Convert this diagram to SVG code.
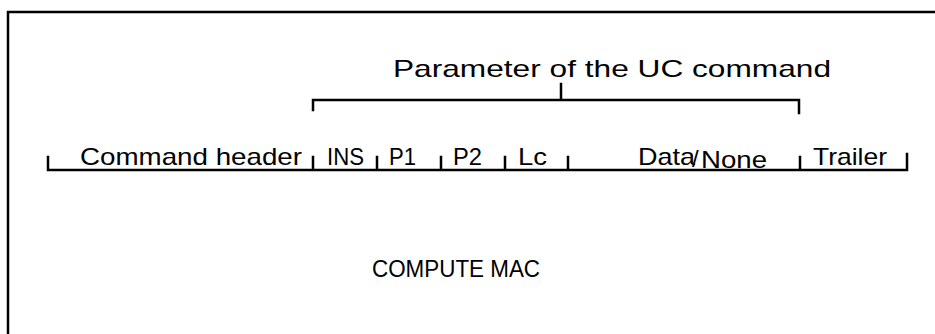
<svg xmlns="http://www.w3.org/2000/svg" width="935" height="334" viewBox="0 0 935 334">
<style>
.ln{fill:none;stroke:#000;stroke-width:2.5;stroke-linecap:square}
.t{font-family:"Liberation Sans",Arial,sans-serif;font-size:24px;fill:#000}
</style>
<rect width="935" height="334" fill="#fff"/>
<g id="frame"><rect x="8" y="12" width="940" height="340" fill="none" stroke="#000" stroke-width="2.5"/></g>
<g id="connectors">
<path class="ln" d="M313 110V100H799V113M561 100V84"/>
<path class="ln" d="M48 157V170H907V154M313 157V170M377 157V170M441 157V170M505 157V170M568 157V170M800 157V170"/>
</g>
<g id="param"><text class="t" x="393" y="77" textLength="438" lengthAdjust="spacingAndGlyphs">Parameter of the UC command</text></g>
<g id="header"><text class="t" x="80" y="165" textLength="222" lengthAdjust="spacingAndGlyphs">Command header</text></g>
<g id="ins"><text class="t" x="327" y="165" textLength="37" lengthAdjust="spacingAndGlyphs">INS</text></g>
<g id="p1"><text class="t" x="389" y="165" textLength="27" lengthAdjust="spacingAndGlyphs">P1</text></g>
<g id="p2"><text class="t" x="453" y="165" textLength="29" lengthAdjust="spacingAndGlyphs">P2</text></g>
<g id="lc"><text class="t" x="518" y="165" textLength="29" lengthAdjust="spacingAndGlyphs">Lc</text></g>
<g id="data"><text class="t" x="638" y="165" textLength="57" lengthAdjust="spacingAndGlyphs">Data</text><text class="t" x="692" y="167">/</text><text class="t" x="701" y="168" textLength="66" lengthAdjust="spacingAndGlyphs">None</text></g>
<g id="trailer"><text class="t" x="813" y="165" textLength="74" lengthAdjust="spacingAndGlyphs">Trailer</text></g>
<g id="mac"><text class="t" x="372" y="277" font-size="28" textLength="168" lengthAdjust="spacingAndGlyphs">COMPUTE MAC</text></g>
</svg>
